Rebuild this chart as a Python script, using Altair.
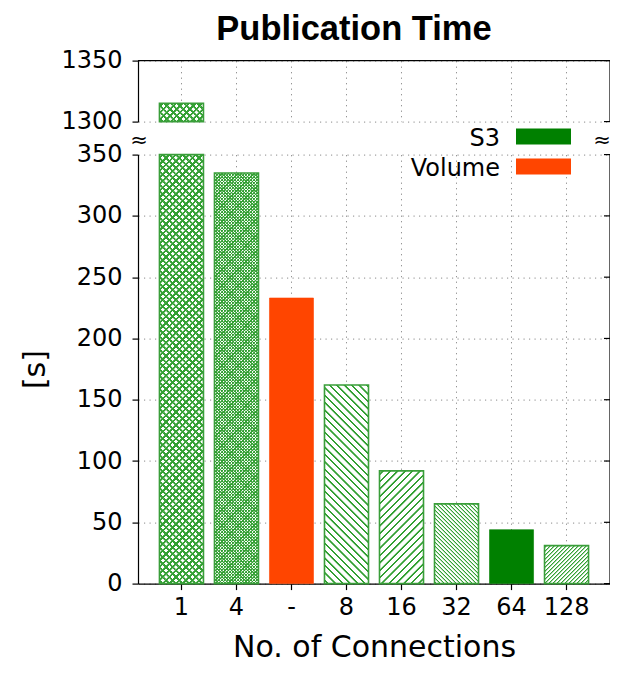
import altair as alt
import pandas as pd

# ---------------- data ----------------
CATEGORIES = ["1", "4", "-", "8", "16", "32", "64", "128"]
VALUES = [1315, 335, 233, 162, 92, 65, 44, 31]
SERIES = ["S3", "S3", "Volume", "S3", "S3", "S3", "S3", "S3"]
LEGEND_NAMES = ["S3", "Volume"]
LOWER_TICKS = [0, 50, 100, 150, 200, 250, 300, 350]
UPPER_TICKS = [1300, 1350]
TITLE = "Publication Time"
X_TITLE = "No. of Connections"
Y_TITLE = "[s]"
BREAK_MARK = "≈"

# ---------------- style ----------------
SERIES_COLORS = {"S3": "#008000", "Volume": "#ff4500"}
# (direction, horizontal spacing px, horizontal line thickness px)
HATCH = {
    "1": ("x", 6.6, 2.2),
    "4": ("x", 3.2, 1.1),
    "-": None,
    "8": ("\\", 7.4, 1.7),
    "16": ("/", 7.4, 1.7),
    "32": ("\\", 4.0, 1.2),
    "64": None,
    "128": ("/", 4.0, 1.2),
}
HATCH_COLOR = "#33a033"
EDGE_COLOR = "#3a9e3a"
TRANSPARENT = "rgba(255,255,255,0)"
W, H_LOW, H_UP, GAP = 472, 429, 61, 33
LOW_MAX, UP_MIN, UP_MAX = 350, 1300, 1350
PAD_INNER, PAD_OUTER = 0.2, 0.39
FONT = "DejaVu Sans"
GRID = dict(grid=True, gridColor="#8a8a8a", gridDash=[1.2, 4.3], gridWidth=1)

df = pd.DataFrame({"connections": CATEGORIES, "value": VALUES, "series": SERIES})
BANDWIDTH = W / (len(CATEGORIES) - PAD_INNER + 2 * PAD_OUTER) * (1 - PAD_INNER)


def stripes(direction, w, h, spacing, thick, bg):
    """Linear gradient that draws 45-degree hatch lines in a w x h box."""
    h = max(h, 1.0)
    L = w + h
    k = (w + h) / (w * w + h * h)
    if direction == "\\":
        x1, y1, x2, y2 = 0.0, 1.0, w * k, 1.0 - h * k
    else:
        x1, y1, x2, y2 = 0.0, 0.0, w * k, h * k
    p, a, r = spacing / L, thick / L, 0.5 / L
    raw = [(0.0, bg)]
    c = p / 2
    while c - a / 2 - r < 1.0:
        raw += [(c - a / 2 - r, bg), (c - a / 2, HATCH_COLOR),
                (c + a / 2, HATCH_COLOR), (c + a / 2 + r, bg)]
        c += p
    raw.append((1.0, bg))
    stops = [{"offset": round(min(max(o, 0.0), 1.0), 6), "color": col} for o, col in raw]
    return {"gradient": "linear", "x1": x1, "y1": y1, "x2": round(x2, 6),
            "y2": round(y2, 6), "stops": stops}


x_scale = alt.Scale(domain=CATEGORIES, paddingInner=PAD_INNER, paddingOuter=PAD_OUTER)
x_low = alt.X("connections:N", sort=CATEGORIES, scale=x_scale,
              axis=alt.Axis(title=X_TITLE, labelAngle=0, bandPosition=0.5, tickSize=6,
                            labelPadding=6, titlePadding=13, **GRID))
x_up = alt.X("connections:N", sort=CATEGORIES, scale=x_scale,
             axis=alt.Axis(title=None, labels=False, ticks=False, domain=False,
                           bandPosition=0.5, **GRID))
low_scale = alt.Scale(domain=[0, LOW_MAX], nice=False, zero=True)
up_scale = alt.Scale(domain=[UP_MIN, UP_MAX], nice=False, zero=False)
y_low = alt.Y("low:Q", scale=low_scale,
              axis=alt.Axis(values=LOWER_TICKS, format="d", title=Y_TITLE, tickSize=6,
                            labelPadding=10, titleX=-103, titleY=H_LOW / 2,
                            titleBaseline="middle", **GRID))
y_up = alt.Y("value:Q", scale=up_scale,
             axis=alt.Axis(values=UPPER_TICKS, format="d", title=None, tickSize=6,
                           labelPadding=10, **GRID))


def bar_layers(panel):
    layers = []
    for cat, val, ser in zip(CATEGORIES, VALUES, SERIES):
        if panel == "up" and val <= UP_MIN:
            continue
        base = alt.Chart(df).transform_filter(alt.datum.connections == cat)
        if panel == "low":
            base = base.transform_calculate(low=f"min(datum.value, {LOW_MAX})")
            enc = dict(x=x_low, y=y_low)
            h = min(val, LOW_MAX) * H_LOW / LOW_MAX
        else:
            enc = dict(x=x_up, y=y_up, y2=alt.datum(UP_MIN))
            h = (val - UP_MIN) * H_UP / (UP_MAX - UP_MIN)
        hatch = HATCH[cat]
        if hatch is None:
            layers.append(base.mark_bar(fill=SERIES_COLORS[ser], stroke=SERIES_COLORS[ser],
                                        strokeWidth=1, strokeOpacity=0.6).encode(**enc))
        else:
            kind, sp, th = hatch
            if kind == "x":
                layers.append(base.mark_bar(fill=stripes("\\", BANDWIDTH, h, sp, th, "white"),
                                            strokeWidth=0).encode(**enc))
                layers.append(base.mark_bar(fill=stripes("/", BANDWIDTH, h, sp, th, TRANSPARENT),
                                            stroke=EDGE_COLOR, strokeWidth=1.6).encode(**enc))
            else:
                layers.append(base.mark_bar(fill=stripes(kind, BANDWIDTH, h, sp, th, "white"),
                                            stroke=EDGE_COLOR, strokeWidth=1.6).encode(**enc))
    return layers


one = pd.DataFrame({"k": [0]})

# right border with inward mirror ticks
low_frame = [
    alt.Chart(one).mark_rule(color="black", strokeWidth=1.2).encode(
        x=alt.value(W), y=alt.value(0), y2=alt.value(H_LOW)),
    alt.Chart(pd.DataFrame({"low": LOWER_TICKS})).mark_rule(color="black", strokeWidth=1.2).encode(
        y=y_low, x=alt.value(W - 6), x2=alt.value(W)),
]
title_mark = alt.Chart(pd.DataFrame({"t": [TITLE]})).mark_text(
    font="Liberation Sans", fontSize=34.5, fontWeight="bold", color="black",
    align="center", baseline="middle").encode(
    text="t:N", x=alt.value(W / 2 - 20), y=alt.value(-30.4))
up_frame = [
    alt.Chart(one).mark_rule(color="black", strokeWidth=1.2).encode(
        x=alt.value(W), y=alt.value(0), y2=alt.value(H_UP)),
    alt.Chart(one).mark_rule(color="black", strokeWidth=1.2).encode(
        x=alt.value(0), x2=alt.value(W), y=alt.value(0)),
    alt.Chart(pd.DataFrame({"value": UPPER_TICKS})).mark_rule(color="black", strokeWidth=1.2).encode(
        y=y_up, x=alt.value(W - 6), x2=alt.value(W)),
    title_mark,
]

# break marks
breaks = [
    alt.Chart(one).mark_text(text=BREAK_MARK, fontSize=21, font=FONT, color="black",
                             baseline="middle", align="center").encode(
        x=alt.value(xx), y=alt.value(-14))
    for xx in (1, W - 8)
]

# legend (labels to the left of the swatches)
legend = []
for i, name in enumerate(LEGEND_NAMES):
    ldf = pd.DataFrame({"name": [name]})
    legend.append(alt.Chart(ldf).mark_rect(color=SERIES_COLORS[name]).encode(
        x=alt.value(378), x2=alt.value(433),
        y=alt.value(-26 + 30 * i), y2=alt.value(-10 + 30 * i)))
    legend.append(alt.Chart(ldf).mark_text(font=FONT, fontSize=24, align="right",
                                           baseline="middle", color="black").encode(
        text="name:N", x=alt.value(362), y=alt.value(-16 + 30 * i)))

upper = alt.layer(*bar_layers("up"), *up_frame).properties(width=W, height=H_UP)
lower = alt.layer(*bar_layers("low"), *low_frame, *breaks, *legend).properties(width=W, height=H_LOW)

chart = alt.vconcat(upper, lower, spacing=GAP, bounds="flush").properties(
    padding={"left": 12, "top": 3.6, "right": -1.5, "bottom": 1.5},
).configure_view(stroke=None).configure_axis(
    labelFont=FONT, titleFont=FONT, labelFontSize=24, titleFontSize=30,
    labelColor="black", titleColor="black", titleFontWeight="normal",
    domainColor="black", tickColor="black", domainWidth=1.2, tickWidth=1.2,
)

chart.save("out.html", embed_options={"renderer": "svg", "actions": False})
